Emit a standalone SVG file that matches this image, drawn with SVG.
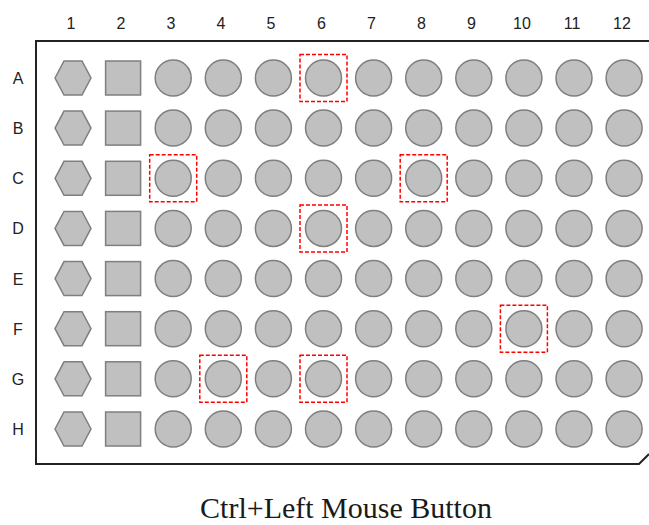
<svg xmlns="http://www.w3.org/2000/svg" xmlns:xlink="http://www.w3.org/1999/xlink" width="649" height="525" viewBox="0 0 649 525">
<style>
.well{fill:#c0c0c0;stroke:#7f7f7f;stroke-width:1.5}
.sel{fill:none;stroke:#ff0000;stroke-width:1.5;stroke-dasharray:4 2}
.lbl{font-family:"Liberation Sans",Arial,sans-serif;font-size:16px;fill:#222;text-anchor:middle}
.cap{font-family:"Liberation Serif","Times New Roman",serif;font-size:30px;fill:#1a1a1a;text-anchor:middle}
</style>
<defs>
<polygon id="hex" class="well" points="-18,0 -9,-17 9,-17 18,0 9,17 -9,17"/>
<rect id="sq" class="well" x="-17.5" y="-17" width="35" height="34"/>
<circle id="c" class="well" r="18"/>
<rect id="box" class="sel" x="-23.5" y="-23.5" width="47" height="47"/>
</defs>
<rect width="649" height="525" fill="#fff"/>
<path id="plate" d="M649,41 H36 V464 H639 L649,454" fill="none" stroke="#222" stroke-width="2"/>
<g id="col-labels" class="lbl">
<text x="71" y="29">1</text><text x="121" y="29">2</text><text x="171" y="29">3</text><text x="221" y="29">4</text><text x="271" y="29">5</text><text x="321.5" y="29">6</text><text x="371.5" y="29">7</text><text x="421.5" y="29">8</text><text x="471.5" y="29">9</text><text x="522" y="29">10</text><text x="572" y="29">11</text><text x="622" y="29">12</text>
</g>
<g id="row-labels" class="lbl">
<text x="18" y="84">A</text><text x="18" y="134">B</text><text x="18" y="184">C</text><text x="18" y="234">D</text><text x="18" y="284.5">E</text><text x="18" y="334.5">F</text><text x="18" y="384.5">G</text><text x="18" y="435">H</text>
</g>
<g id="row-A" transform="translate(0,78)"><use id="A1" href="#hex" x="73"/><use id="A2" href="#sq" x="123.1"/><use id="A3" href="#c" x="173.2"/><use id="A4" href="#c" x="223.3"/><use id="A5" href="#c" x="273.4"/><use id="A6" href="#c" x="323.5"/><use id="A7" href="#c" x="373.6"/><use id="A8" href="#c" x="423.7"/><use id="A9" href="#c" x="473.8"/><use id="A10" href="#c" x="523.9"/><use id="A11" href="#c" x="574"/><use id="A12" href="#c" x="624.1"/></g>
<g id="row-B" transform="translate(0,128.1)"><use id="B1" href="#hex" x="73"/><use id="B2" href="#sq" x="123.1"/><use id="B3" href="#c" x="173.2"/><use id="B4" href="#c" x="223.3"/><use id="B5" href="#c" x="273.4"/><use id="B6" href="#c" x="323.5"/><use id="B7" href="#c" x="373.6"/><use id="B8" href="#c" x="423.7"/><use id="B9" href="#c" x="473.8"/><use id="B10" href="#c" x="523.9"/><use id="B11" href="#c" x="574"/><use id="B12" href="#c" x="624.1"/></g>
<g id="row-C" transform="translate(0,178.3)"><use id="C1" href="#hex" x="73"/><use id="C2" href="#sq" x="123.1"/><use id="C3" href="#c" x="173.2"/><use id="C4" href="#c" x="223.3"/><use id="C5" href="#c" x="273.4"/><use id="C6" href="#c" x="323.5"/><use id="C7" href="#c" x="373.6"/><use id="C8" href="#c" x="423.7"/><use id="C9" href="#c" x="473.8"/><use id="C10" href="#c" x="523.9"/><use id="C11" href="#c" x="574"/><use id="C12" href="#c" x="624.1"/></g>
<g id="row-D" transform="translate(0,228.4)"><use id="D1" href="#hex" x="73"/><use id="D2" href="#sq" x="123.1"/><use id="D3" href="#c" x="173.2"/><use id="D4" href="#c" x="223.3"/><use id="D5" href="#c" x="273.4"/><use id="D6" href="#c" x="323.5"/><use id="D7" href="#c" x="373.6"/><use id="D8" href="#c" x="423.7"/><use id="D9" href="#c" x="473.8"/><use id="D10" href="#c" x="523.9"/><use id="D11" href="#c" x="574"/><use id="D12" href="#c" x="624.1"/></g>
<g id="row-E" transform="translate(0,278.6)"><use id="E1" href="#hex" x="73"/><use id="E2" href="#sq" x="123.1"/><use id="E3" href="#c" x="173.2"/><use id="E4" href="#c" x="223.3"/><use id="E5" href="#c" x="273.4"/><use id="E6" href="#c" x="323.5"/><use id="E7" href="#c" x="373.6"/><use id="E8" href="#c" x="423.7"/><use id="E9" href="#c" x="473.8"/><use id="E10" href="#c" x="523.9"/><use id="E11" href="#c" x="574"/><use id="E12" href="#c" x="624.1"/></g>
<g id="row-F" transform="translate(0,328.7)"><use id="F1" href="#hex" x="73"/><use id="F2" href="#sq" x="123.1"/><use id="F3" href="#c" x="173.2"/><use id="F4" href="#c" x="223.3"/><use id="F5" href="#c" x="273.4"/><use id="F6" href="#c" x="323.5"/><use id="F7" href="#c" x="373.6"/><use id="F8" href="#c" x="423.7"/><use id="F9" href="#c" x="473.8"/><use id="F10" href="#c" x="523.9"/><use id="F11" href="#c" x="574"/><use id="F12" href="#c" x="624.1"/></g>
<g id="row-G" transform="translate(0,378.8)"><use id="G1" href="#hex" x="73"/><use id="G2" href="#sq" x="123.1"/><use id="G3" href="#c" x="173.2"/><use id="G4" href="#c" x="223.3"/><use id="G5" href="#c" x="273.4"/><use id="G6" href="#c" x="323.5"/><use id="G7" href="#c" x="373.6"/><use id="G8" href="#c" x="423.7"/><use id="G9" href="#c" x="473.8"/><use id="G10" href="#c" x="523.9"/><use id="G11" href="#c" x="574"/><use id="G12" href="#c" x="624.1"/></g>
<g id="row-H" transform="translate(0,429)"><use id="H1" href="#hex" x="73"/><use id="H2" href="#sq" x="123.1"/><use id="H3" href="#c" x="173.2"/><use id="H4" href="#c" x="223.3"/><use id="H5" href="#c" x="273.4"/><use id="H6" href="#c" x="323.5"/><use id="H7" href="#c" x="373.6"/><use id="H8" href="#c" x="423.7"/><use id="H9" href="#c" x="473.8"/><use id="H10" href="#c" x="523.9"/><use id="H11" href="#c" x="574"/><use id="H12" href="#c" x="624.1"/></g>
<g id="selection">
<use href="#box" x="323.5" y="78"/>
<use href="#box" x="173.2" y="178.3"/>
<use href="#box" x="423.7" y="178.3"/>
<use href="#box" x="323.5" y="228.4"/>
<use href="#box" x="523.9" y="328.7"/>
<use href="#box" x="223.3" y="378.8"/>
<use href="#box" x="323.5" y="378.8"/>
</g>
<text id="caption" class="cap" x="346" y="518">Ctrl+Left Mouse Button</text>
</svg>
